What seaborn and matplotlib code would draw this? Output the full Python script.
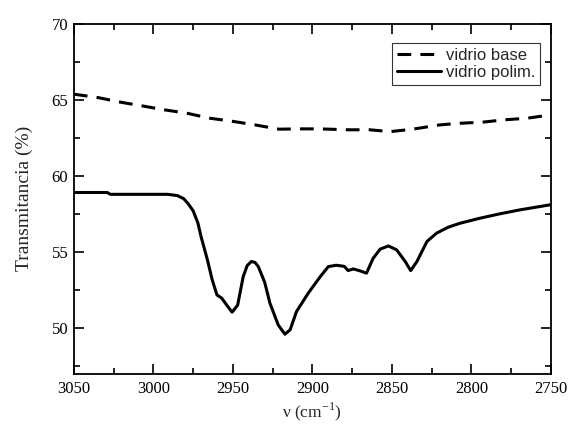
import matplotlib
matplotlib.use("Agg")
import matplotlib.pyplot as plt
import seaborn as sns
import pandas as pd
from matplotlib.ticker import MultipleLocator

# Wavenumber (cm^-1) and transmittance (%) for the base glass
base_x = [3050, 3035, 3021, 3007, 2993, 2979, 2964.5, 2951, 2936, 2921, 2908,
          2896, 2877, 2864, 2851, 2837, 2820, 2807, 2793, 2780, 2765, 2750]
base_y = [65.36, 65.14, 64.84, 64.59, 64.33, 64.11, 63.78, 63.59, 63.34, 63.06, 63.08,
          63.08, 63.02, 63.02, 62.9, 63.06, 63.34, 63.45, 63.52, 63.67, 63.78, 64.0]

# Wavenumber (cm^-1) and transmittance (%) for the polymer-coated glass
poly_x = [3050, 3029, 3027, 2991, 2985, 2981, 2978, 2975, 2972, 2970, 2966, 2963,
          2961, 2960, 2957, 2954, 2950.5, 2947, 2943.5, 2941, 2938.3, 2936, 2934,
          2930, 2926.7, 2921.5, 2917.3, 2914, 2910, 2902.6, 2895, 2890, 2885, 2880,
          2877.5, 2874.3, 2870, 2866, 2861.8, 2857.4, 2852.2, 2847, 2841.6, 2838.2,
          2834.3, 2828, 2821.9, 2814.6, 2807.2, 2794.7, 2782.1, 2769.5, 2750]
poly_y = [58.9, 58.9, 58.78, 58.78, 58.7, 58.5, 58.15, 57.7, 56.9, 56.0, 54.47, 53.16,
          52.5, 52.17, 51.96, 51.52, 51.04, 51.5, 53.38, 54.1, 54.37, 54.3, 54.03,
          53.0, 51.63, 50.2, 49.59, 49.88, 51.08, 52.29, 53.38, 54.03, 54.12, 54.05,
          53.77, 53.88, 53.75, 53.6, 54.58, 55.18, 55.39, 55.13, 54.36, 53.77,
          54.36, 55.68, 56.23, 56.62, 56.88, 57.21, 57.5, 57.76, 58.1]

labels = ["vidrio base", "vidrio polim."]

df = pd.concat([
    pd.DataFrame({"nu": base_x, "T": base_y, "muestra": labels[0]}),
    pd.DataFrame({"nu": poly_x, "T": poly_y, "muestra": labels[1]}),
], ignore_index=True)

sns.set_style("ticks")
plt.rcParams["font.family"] = ["Liberation Serif", "DejaVu Serif"]
plt.rcParams["mathtext.fontset"] = "custom"
plt.rcParams["mathtext.rm"] = "Liberation Serif"

fig = plt.figure(figsize=(5.68, 4.28), dpi=100)
ax = fig.add_axes([0.130, 0.127, 0.840, 0.818])

sns.lineplot(data=df, x="nu", y="T", hue="muestra", style="muestra",
             palette={labels[0]: "black", labels[1]: "black"},
             dashes={labels[0]: (4.5, 3.0), labels[1]: ""},
             linewidth=2.2, sort=False, estimator=None, ax=ax)

ax.set_xlim(3050, 2750)
ax.set_ylim(47, 70)
ax.xaxis.set_major_locator(MultipleLocator(50))
ax.xaxis.set_minor_locator(MultipleLocator(25))
ax.yaxis.set_major_locator(MultipleLocator(5))
ax.yaxis.set_minor_locator(MultipleLocator(2.5))

ax.tick_params(which="both", direction="in", top=True, right=True,
               width=1.2, labelsize=12, colors="black")
ax.tick_params(which="major", length=7)
ax.tick_params(which="minor", length=4.5)
ax.tick_params(axis="x", which="major", pad=5)
ax.tick_params(axis="y", which="major", pad=4)
for s in ax.spines.values():
    s.set_linewidth(1.3)
    s.set_color("black")

ax.set_xlabel(r"ν (cm$^{\mathregular{-1}}$)", fontsize=12.5, labelpad=3)
ax.set_ylabel("Transmitancia (%)", fontsize=14, labelpad=13)

leg = ax.legend(loc="upper right", bbox_to_anchor=(0.977, 0.945),
                prop={"family": ["Liberation Sans", "DejaVu Sans"], "size": 12},
                frameon=True, fancybox=False, handlelength=2.6,
                handletextpad=0.3, borderpad=0.3, labelspacing=0.15,
                borderaxespad=0.0)
leg.get_frame().set_edgecolor("black")
leg.get_frame().set_linewidth(0.8)

fig.savefig("out.png", dpi=100)
